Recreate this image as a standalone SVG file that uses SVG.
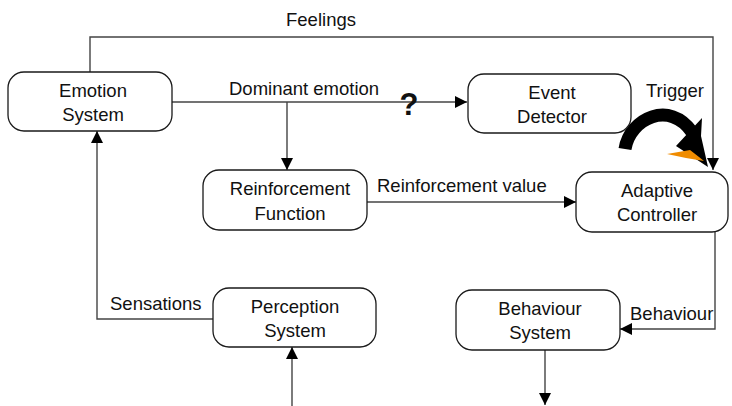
<svg xmlns="http://www.w3.org/2000/svg" width="732" height="406" viewBox="0 0 732 406">
  <style>
    .box { fill: #ffffff; stroke: #1a1a1a; stroke-width: 1.3; }
    .lbl { font-family: "Liberation Sans", Arial, sans-serif; font-size: 18.5px; fill: #111111; }
    .mid { text-anchor: middle; }
    .wire { fill: none; stroke: #444444; stroke-width: 1.4; }
  </style>
  <defs>
    <marker id="head" viewBox="0 0 12 12" refX="12" refY="6" markerWidth="12" markerHeight="12" markerUnits="userSpaceOnUse" orient="auto">
      <path d="M0,0 L12,6 L0,12 Z" fill="#000000"/>
    </marker>
  </defs>

  <rect width="732" height="406" fill="#ffffff"/>

  <!-- connectors -->
  <g id="connectors">
    <polyline class="wire" points="90,72 90,37 713,37 713,170" marker-end="url(#head)"/>
    <line class="wire" x1="172" y1="102" x2="467" y2="102" marker-end="url(#head)"/>
    <line class="wire" x1="287" y1="102" x2="287" y2="170" marker-end="url(#head)"/>
    <line class="wire" x1="367" y1="202" x2="576" y2="202" marker-end="url(#head)"/>
    <polyline class="wire" points="715,232 715,329 620,329" marker-end="url(#head)"/>
    <line class="wire" x1="545" y1="350" x2="545" y2="405" marker-end="url(#head)"/>
    <line class="wire" x1="292" y1="406" x2="292" y2="347" marker-end="url(#head)"/>
    <polyline class="wire" points="213,319 97,319 97,131" marker-end="url(#head)"/>

    <text class="lbl mid" x="321" y="26">Feelings</text>
    <text class="lbl" x="229" y="95">Dominant emotion</text>
    <text x="409" y="115" text-anchor="middle" font-family="Liberation Sans, Arial, sans-serif" font-size="31" font-weight="bold" fill="#111111">?</text>
    <text class="lbl" x="646" y="97">Trigger</text>
    <text class="lbl" x="377" y="192">Reinforcement value</text>
    <text class="lbl" x="110" y="310">Sensations</text>
    <text class="lbl" x="630" y="320">Behaviour</text>

    <!-- trigger: heavy curved arrow into the controller -->
    <g id="trigger-arrow">
      <path d="M625,149 C630,118 670,100 692,132" fill="none" stroke="#000000" stroke-width="13"/>
      <path d="M676,146 L702,118 L701,136 L708,167 Z" fill="#000000"/>
      <path d="M667,154 L690,150 L699,157 L704,161 L686,158 Z" fill="#f08c00"/>
    </g>
  </g>

  <!-- nodes -->
  <g id="emotion-system">
    <rect class="box" x="8" y="72" width="164" height="59" rx="16"/>
    <text class="lbl mid" x="93" y="97">Emotion</text>
    <text class="lbl mid" x="93" y="121">System</text>
  </g>
  <g id="event-detector">
    <rect class="box" x="468" y="74" width="163" height="59" rx="16"/>
    <text class="lbl mid" x="552" y="99">Event</text>
    <text class="lbl mid" x="552" y="123">Detector</text>
  </g>
  <g id="reinforcement-function">
    <rect class="box" x="203" y="170" width="164" height="60" rx="16"/>
    <text class="lbl mid" x="290" y="195">Reinforcement</text>
    <text class="lbl mid" x="290" y="220">Function</text>
  </g>
  <g id="adaptive-controller">
    <rect class="box" x="576" y="172" width="152" height="60" rx="16"/>
    <text class="lbl mid" x="657" y="197">Adaptive</text>
    <text class="lbl mid" x="657" y="221">Controller</text>
  </g>
  <g id="perception-system">
    <rect class="box" x="213" y="288" width="163" height="59" rx="16"/>
    <text class="lbl mid" x="295" y="313">Perception</text>
    <text class="lbl mid" x="295" y="337">System</text>
  </g>
  <g id="behaviour-system">
    <rect class="box" x="456" y="290" width="164" height="60" rx="16"/>
    <text class="lbl mid" x="540" y="315">Behaviour</text>
    <text class="lbl mid" x="540" y="339">System</text>
  </g>
</svg>
